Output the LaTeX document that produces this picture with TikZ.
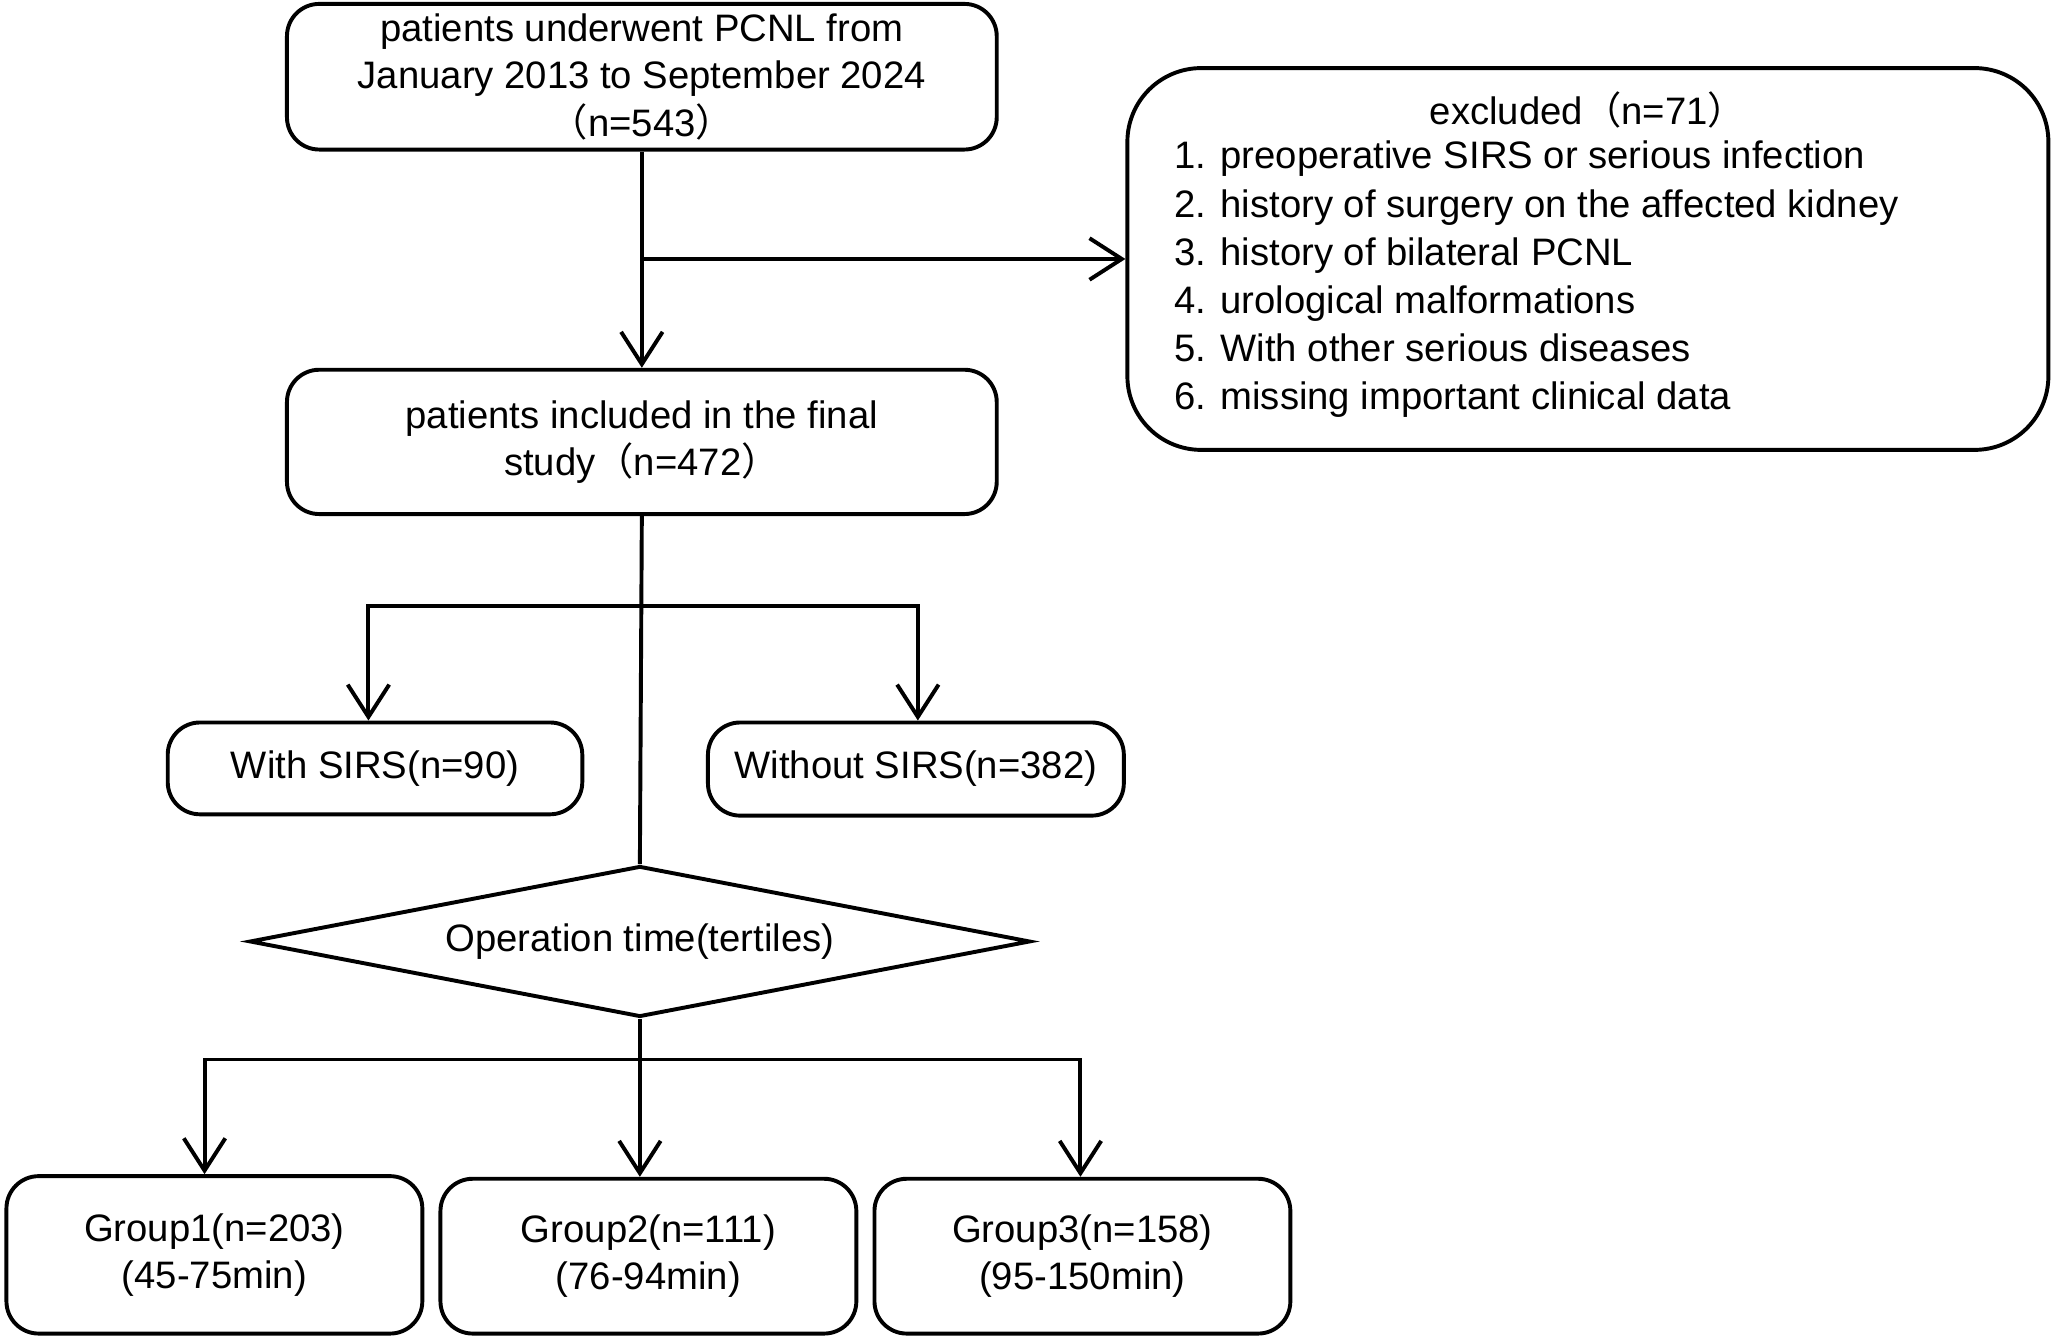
\documentclass[tikz,border=0pt]{standalone}
\usepackage{fontspec}
\setmainfont{Liberation Sans}
\newfontfamily\cjk{Noto Sans CJK SC}
\usetikzlibrary{arrows.meta,shapes.geometric,positioning}
\newcommand{\lp}{{\cjk （}}
\newcommand{\rp}{{\cjk ）}}
\tikzset{
  box/.style={draw, line width=0.85pt, rounded corners=7pt, align=center, inner sep=0pt},
  arr/.style={-{Straight Barb[length=7pt,width=9pt,line width=0.85pt]}, line width=0.85pt},
  ln/.style={line width=0.85pt}
}
\begin{document}
\begin{tikzpicture}[x=0.01cm,y=-0.01cm,font=\fontsize{8.3}{10.3}\selectfont]
  \useasboundingbox (0,0) rectangle (1568,1020);
  % boxes
  \node[box, minimum width=541\pgflinewidth] (all) at (489.5,58.5) [minimum width=5.41cm, minimum height=1.11cm]
    {patients underwent PCNL from\\January 2013 to September 2024\\\lp n=543\rp};
  \node[box, rounded corners=16pt, minimum width=7.02cm, minimum height=2.91cm] (excl) at (1211,197.5) {};
  \node (exclt) at (1211,84) {excluded\lp n=71\rp};
  \node[align=left, anchor=north west, inner sep=0pt, font=\fontsize{8.3}{10.45}\selectfont] (exclist) at (895,107)
    {1. preoperative SIRS or serious infection\\
     2. history of surgery on the affected kidney\\
     3. history of bilateral PCNL\\
     4. urological malformations\\
     5. With other serious diseases\\
     6. missing important clinical data};
  \node[box, minimum width=5.41cm, minimum height=1.10cm] (incl) at (489.5,337)
    {patients included in the final\\study\lp n=472\rp};
  \node[box, minimum width=3.16cm, minimum height=0.70cm] (sirs) at (286,586) {With SIRS(n=90)};
  \node[box, minimum width=3.17cm, minimum height=0.71cm] (nosirs) at (698.5,586.5) {Without SIRS(n=382)};
  \node[draw, ln, diamond, aspect=5.1, inner sep=0pt, minimum width=5.95cm, minimum height=1.15cm] (optime) at (488,718) {Operation time(tertiles)};
  \node[box, minimum width=3.17cm, minimum height=1.20cm] (g1) at (163.5,957) {Group1(n=203)\\(45-75min)};
  \node[box, minimum width=3.17cm, minimum height=1.18cm] (g2) at (494.5,958) {Group2(n=111)\\(76-94min)};
  \node[box, minimum width=3.17cm, minimum height=1.18cm] (g3) at (825.5,958) {Group3(n=158)\\(95-150min)};
  % connectors
  \coordinate (b1) at (all.south |- excl.west);
  \draw[arr] (all.south) -- (incl.north);
  \draw[arr] (b1) -- (excl.west);
  \draw[ln] (incl.south) -- (optime.north);
  \coordinate (s1) at (281,462);
  \coordinate (s2) at (700,462);
  \draw[arr] (s1 -| incl.south) -- (s1) -- (s1 |- sirs.north);
  \draw[arr] (s1 -| incl.south) -- (s2) -- (s2 |- nosirs.north);
  \coordinate (t1) at (156,808);
  \coordinate (t3) at (824,808);
  \draw[ln] (optime.south) -- (t1 -| optime.south);
  \draw[arr] (t1 -| optime.south) -- (t1) -- (t1 |- g1.north);
  \draw[arr] (t1 -| optime.south) -- (t3) -- (t3 |- g3.north);
  \draw[arr] (optime.south) -- (optime.south |- g2.north);
\end{tikzpicture}
\end{document}
